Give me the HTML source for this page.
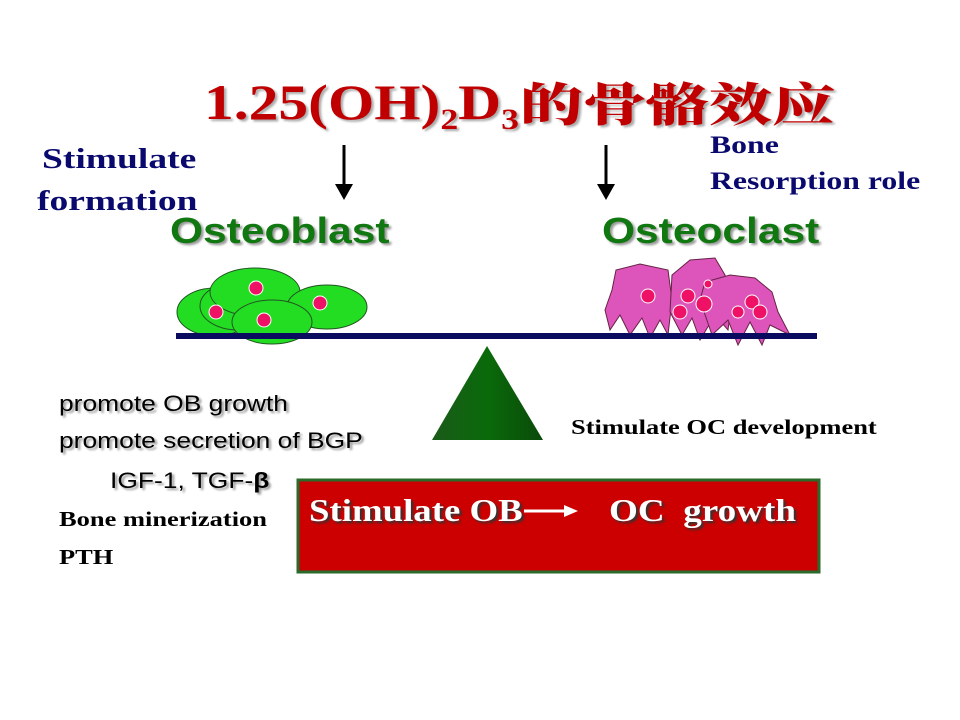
<!DOCTYPE html>
<html><head><meta charset="utf-8"><style>
body{margin:0;width:960px;height:720px;background:#fff;position:relative;overflow:hidden;font-family:"Liberation Sans",sans-serif}
.a{position:absolute;white-space:nowrap;transform-origin:0 0}
.ser{font-family:"Liberation Serif",serif;font-weight:bold}
.sh{text-shadow:2px 2px 2px #999}
</style></head><body>
<div class="a ser" style="left:204px;top:72px;font-size:50px;color:#c00000;line-height:60px;text-shadow:2px 2px 2px #aaa;transform:scaleX(1.19)">1.25(OH)<sub style="font-size:30px;vertical-align:-10px">2</sub>D<sub style="font-size:30px;vertical-align:-10px">3</sub></div>
<div class="a" style="left:520px;top:72px;font-family:'Noto Serif CJK SC','Noto Sans CJK SC',serif;font-weight:900;font-size:46px;color:#c00000;line-height:60px;text-shadow:2px 2px 2px #aaa;transform:scaleX(1.37)">的骨骼效应</div>
<div class="a ser" style="left:42px;top:138px;font-size:28px;color:#0a0a6e;line-height:44px;transform:scaleX(1.34)">Stimulate</div>
<div class="a ser" style="left:37px;top:180px;font-size:28px;color:#0a0a6e;line-height:44px;transform:scaleX(1.34)">formation</div>
<div class="a ser" style="left:710px;top:128px;font-size:25px;color:#0a0a6e;line-height:36px;transform:scaleX(1.27)">Bone<br>Resorption role</div>
<svg class="a" style="left:0;top:0" width="960" height="720">
<line x1="344" y1="145" x2="344" y2="188" stroke="#000" stroke-width="3"/><polygon points="335,184 353,184 344,200" fill="#000"/>
<line x1="606" y1="145" x2="606" y2="188" stroke="#000" stroke-width="3"/><polygon points="597,184 615,184 606,200" fill="#000"/>
<g stroke="#225522" stroke-width="1" fill="#22dd22">
<ellipse cx="215" cy="312" rx="38" ry="24"/><ellipse cx="238" cy="306" rx="38" ry="24"/>
<ellipse cx="255" cy="292" rx="45" ry="24"/><ellipse cx="327" cy="307" rx="40" ry="22"/>
<ellipse cx="272" cy="322" rx="40" ry="22"/></g>
<g fill="#ee1166" stroke="#fff" stroke-width="1">
<circle cx="256" cy="288" r="7"/><circle cx="216" cy="312" r="7"/><circle cx="320" cy="303" r="7"/><circle cx="264" cy="320" r="7"/></g>
<g stroke="#662244" stroke-width="1" fill="#dd55bb">
<path d="M610,330 L605,310 L612,290 L616,270 L640,264 L668,270 L672,300 L668,335 L660,320 L650,338 L642,318 L630,335 L620,315 Z"/>
<path d="M672,275 L690,260 L715,258 L725,275 L732,300 L728,330 L715,315 L700,340 L692,318 L682,335 L670,312 Z"/>
<path d="M700,300 L705,282 L730,275 L755,278 L772,292 L778,312 L790,335 L770,325 L762,345 L750,322 L738,345 L728,320 L712,335 Z"/>
</g>
<g fill="#ee1166" stroke="#fff" stroke-width="1">
<circle cx="648" cy="296" r="7"/><circle cx="688" cy="296" r="7"/><circle cx="704" cy="304" r="8"/><circle cx="680" cy="312" r="7"/><circle cx="708" cy="284" r="4"/>
<circle cx="752" cy="302" r="7"/><circle cx="760" cy="312" r="7"/><circle cx="738" cy="312" r="6"/></g>
<rect x="176" y="333" width="641" height="6" fill="#0a0a5e"/>
<defs><linearGradient id="g" x1="0" x2="1"><stop offset="0" stop-color="#1a5a1a"/><stop offset=".5" stop-color="#0a6a0a"/><stop offset="1" stop-color="#0a4a0a"/></linearGradient></defs>
<polygon points="487,346 432,440 543,440" fill="url(#g)"/>
<rect x="298" y="480" width="521" height="92" fill="#cc0000" stroke="#2a6a2a" stroke-width="3"/>
<line x1="524" y1="511" x2="566" y2="511" stroke="#fff" stroke-width="3"/><polygon points="564,505 578,511 564,517" fill="#fff"/>
</svg>
<div class="a sh" style="left:170px;top:208px;font-size:36px;font-weight:bold;color:#117711;line-height:46px;transform:scaleX(1.18)">Osteoblast</div>
<div class="a sh" style="left:602px;top:208px;font-size:36px;font-weight:bold;color:#117711;line-height:46px;transform:scaleX(1.18)">Osteoclast</div>
<div class="a sh" style="left:59px;top:390px;font-size:22px;color:#000;line-height:28px;transform:scaleX(1.2)">promote OB growth</div>
<div class="a sh" style="left:59px;top:427px;font-size:22px;color:#000;line-height:28px;transform:scaleX(1.2)">promote secretion of BGP</div>
<div class="a sh" style="left:110px;top:467px;font-size:22px;color:#000;line-height:28px;transform:scaleX(1.2)">IGF-1, TGF-<b>β</b></div>
<div class="a ser" style="left:59px;top:506px;font-size:21px;line-height:26px;transform:scaleX(1.26)">Bone minerization</div>
<div class="a ser" style="left:59px;top:544px;font-size:21px;line-height:26px;transform:scaleX(1.26)">PTH</div>
<div class="a ser" style="left:571px;top:414px;font-size:21px;line-height:26px;transform:scaleX(1.26)">Stimulate OC development</div>
<div class="a ser" style="left:309px;top:490px;font-size:32px;color:#fff;line-height:40px;text-shadow:2px 2px 2px #333;transform:scaleX(1.15)">Stimulate OB</div>
<div class="a ser" style="left:609px;top:490px;font-size:32px;color:#fff;line-height:40px;text-shadow:2px 2px 2px #333;transform:scaleX(1.16)">OC&nbsp; growth</div>
</body></html>
